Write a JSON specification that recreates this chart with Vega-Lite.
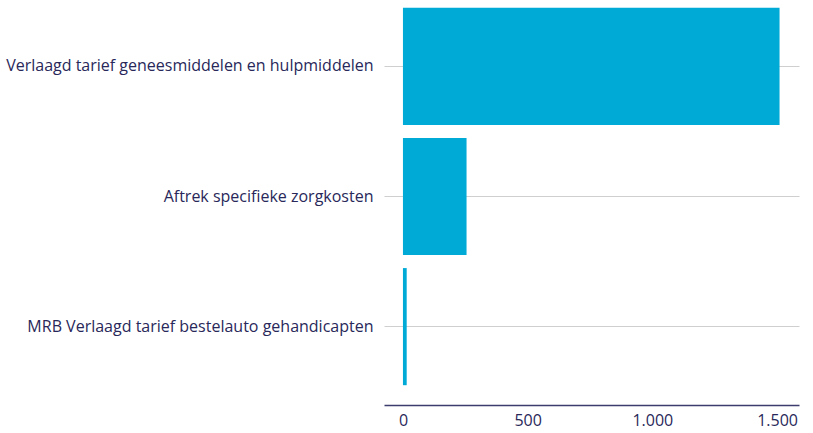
{
  "$schema": "https://vega.github.io/schema/vega-lite/v6.json",
  "autosize": "none",
  "width": 415,
  "height": 393,
  "padding": {"left": 384, "top": 0, "right": 14, "bottom": 40},
  "background": "white",
  "config": {
    "view": {"stroke": null},
    "locale": {"number": {"decimal": ",", "thousands": ".", "grouping": [3], "currency": ["€", ""]}},
    "axis": {"labelFont": "Open Sans", "labelColor": "#29285a", "titleFont": "Open Sans"}
  },
  "data": {
    "values": [
      {"categorie": "Verlaagd tarief geneesmiddelen en hulpmiddelen", "waarde": 1510},
      {"categorie": "Aftrek specifieke zorgkosten", "waarde": 255},
      {"categorie": "MRB Verlaagd tarief bestelauto gehandicapten", "waarde": 15}
    ]
  },
  "mark": {"type": "bar", "color": "#00aad6"},
  "encoding": {
    "y": {
      "field": "categorie",
      "type": "nominal",
      "sort": null,
      "scale": {"paddingInner": 0.1, "paddingOuter": 0.06},
      "axis": {
        "title": null,
        "domain": false,
        "ticks": false,
        "grid": true,
        "bandPosition": 0.5,
        "gridColor": "#cfcfcf",
        "gridWidth": 1,
        "labelPadding": 11,
        "labelFontSize": 16,
        "labelLimit": 400
      }
    },
    "x": {
      "field": "waarde",
      "type": "quantitative",
      "scale": {"domain": [-76, 1588], "nice": false, "zero": false},
      "axis": {
        "title": null,
        "values": [0, 500, 1000, 1500],
        "format": ",d",
        "grid": false,
        "ticks": false,
        "domainColor": "#3d3c6e",
        "domainWidth": 1.5,
        "offset": 12,
        "labelPadding": 7,
        "labelFontSize": 16,
        "labelFlush": false
      }
    }
  }
}
